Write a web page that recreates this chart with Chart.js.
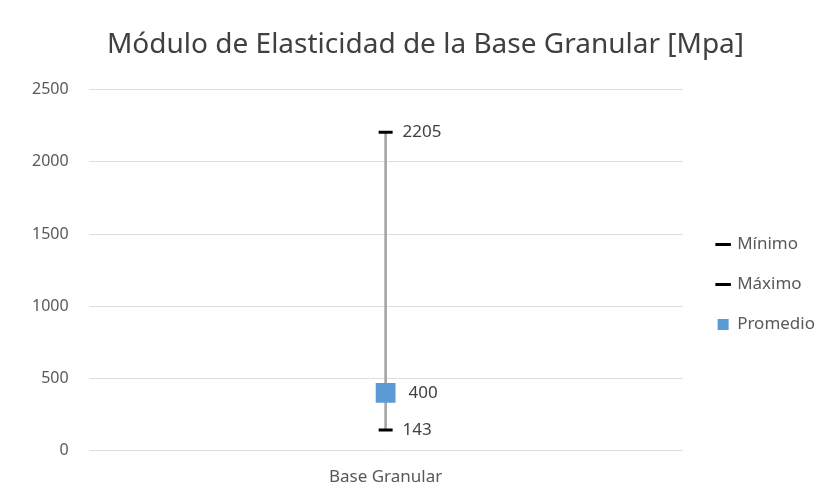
<!DOCTYPE html>
<html>
<head>
<meta charset="utf-8">
<script src="https://cdn.jsdelivr.net/npm/chart.js@4"></script>
<style>
  html, body { margin: 0; padding: 0; background: #fff; }
  #wrap { width: 823px; height: 499px; }
</style>
</head>
<body>
<div id="wrap"><canvas id="chart"></canvas></div>
<script>
'use strict';

// ── Data ──────────────────────────────────────────────────────────────────────
const CATEGORIES = ['Base Granular'];
const MINIMO     = [143];
const MAXIMO     = [2205];
const PROMEDIO   = [400];
const Y_TICKS    = [0, 500, 1000, 1500, 2000, 2500];

const FONT = '"Noto Sans", "Open Sans", sans-serif';

// ── Value labels next to the markers ──────────────────────────────────────────
const valueLabels = {
  id: 'valueLabels',
  afterDatasetsDraw(chart) {
    const ctx = chart.ctx;
    ctx.save();
    ctx.font = '17px ' + FONT;
    ctx.fillStyle = '#404040';
    ctx.textBaseline = 'middle';
    chart.data.datasets.forEach((ds, i) => {
      if (ds.type === 'bar') return;
      const meta = chart.getDatasetMeta(i);
      meta.data.forEach((pt, j) => {
        const off = ds.pointStyle === 'rect' ? 23 : 17;
        ctx.fillText(String(ds.data[j]), pt.x + off, pt.y);
      });
    });
    ctx.restore();
  }
};

// nudge legend and title to where Excel had them
const boxShift = {
  id: 'boxShift',
  afterLayout(chart) {
    const lg = chart.legend;
    if (lg) {
      lg.left += 12;  lg.right  += 12;
      lg.top  += 30;  lg.bottom += 30;
    }
    const tb = chart.titleBlock;
    if (tb) { tb.left += 13; tb.right += 13; }
  }
};

// ── Chart ─────────────────────────────────────────────────────────────────────
new Chart(document.getElementById('chart'), {
  type: 'line',
  data: {
    labels: CATEGORIES,
    datasets: [
      {
        label: 'Mínimo',
        data: MINIMO,
        showLine: false,
        pointStyle: 'line',
        pointRadius: 7,
        pointBorderWidth: 3,
        borderColor: '#000',
        backgroundColor: '#000',
        order: 1
      },
      {
        label: 'Máximo',
        data: MAXIMO,
        showLine: false,
        pointStyle: 'line',
        pointRadius: 7,
        pointBorderWidth: 3,
        borderColor: '#000',
        backgroundColor: '#000',
        order: 1
      },
      {
        label: 'Promedio',
        data: PROMEDIO,
        showLine: false,
        pointStyle: 'rect',
        pointRadius: 14,
        pointBorderWidth: 0,
        borderColor: '#5b9bd5',
        backgroundColor: '#5b9bd5',
        order: 0
      },
      {
        // high-low line
        type: 'bar',
        label: 'range',
        data: MINIMO.map((v, i) => [v, MAXIMO[i]]),
        backgroundColor: '#a6a6a6',
        barThickness: 2,
        order: 2
      }
    ]
  },
  options: {
    responsive: true,
    maintainAspectRatio: false,
    animation: false,
    layout: { padding: { left: 12, right: 10, top: 14, bottom: 4 } },
    plugins: {
      title: {
        display: true,
        text: 'Módulo de Elasticidad de la Base Granular [Mpa]',
        color: '#404040',
        font: { family: FONT, size: 28, weight: 'normal' },
        padding: { top: 14, bottom: 28 }
      },
      legend: {
        position: 'right',
        labels: {
          usePointStyle: true,
          boxWidth: 11,
          boxHeight: 11,
          padding: 23,
          color: '#595959',
          font: { family: FONT, size: 17 },
          filter: item => item.text !== 'range',
          sort: (a, b) => a.datasetIndex - b.datasetIndex
        }
      },
      tooltip: { enabled: false }
    },
    scales: {
      x: {
        grid: { display: false },
        border: { display: false },
        ticks: { color: '#595959', padding: 8, font: { family: FONT, size: 17 } }
      },
      y: {
        min: 0,
        max: 2500,
        afterBuildTicks: axis => { axis.ticks = Y_TICKS.map(v => ({ value: v })); },
        grid: { color: '#dedede', drawTicks: false },
        border: { display: false },
        ticks: {
          color: '#595959',
          padding: 20,
          font: { family: FONT, size: 16 },
          callback: v => String(v)
        }
      }
    }
  },
  plugins: [valueLabels, boxShift]
});
</script>
</body>
</html>
